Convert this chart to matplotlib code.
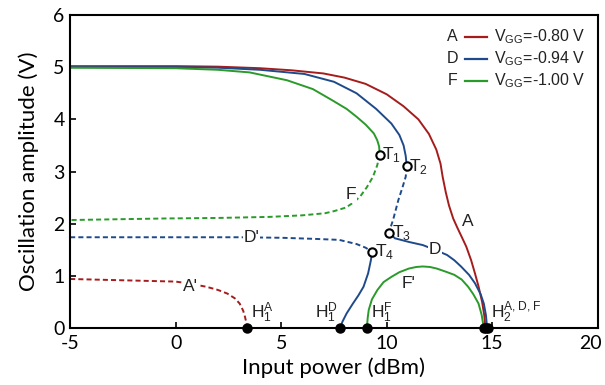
import matplotlib
matplotlib.use("Agg")
import matplotlib.pyplot as plt
from matplotlib.transforms import ScaledTranslation

plt.rcParams["axes.unicode_minus"] = False
plt.rcParams["mathtext.fontset"] = "custom"
plt.rcParams["mathtext.rm"] = "Liberation Sans"

RED, BLUE, GREEN = "#a51c1c", "#1f4a8a", "#2a9a2a"

# A (V_GG=-0.80 V)
A_x = [-5, 0, 2, 4, 5.5, 7, 8, 9, 10, 10.8, 11.5, 12.0, 12.35, 12.55, 12.65, 12.7, 12.8,
       12.95, 13.15, 13.35, 13.55, 13.77, 14.0, 14.18, 14.35, 14.52, 14.62, 14.68]
A_y = [5.02, 5.02, 5.01, 4.98, 4.94, 4.88, 4.8, 4.68, 4.48, 4.25, 4.0, 3.72, 3.42, 3.15,
       2.9, 2.8, 2.6, 2.35, 2.1, 1.92, 1.75, 1.56, 1.3, 1.05, 0.8, 0.5, 0.25, 0.0]
Ap_x = [-5, -3, -1, 0, 0.7, 1.46, 2.0, 2.45, 2.8, 3.03, 3.2, 3.28, 3.35, 3.4]
Ap_y = [0.94, 0.92, 0.9, 0.89, 0.85, 0.79, 0.73, 0.66, 0.57, 0.47, 0.33, 0.22, 0.1, 0.0]

# D (V_GG=-0.94 V)
D_up_x = [-5, 0, 2, 4, 6.1, 7.5, 8.57, 9.5, 10.22, 10.6, 10.8, 10.9, 10.95]
D_up_y = [5.0, 5.0, 4.99, 4.95, 4.87, 4.72, 4.5, 4.2, 3.92, 3.7, 3.5, 3.3, 3.1]
D_mid_x = [10.95, 10.9, 10.75, 10.55, 10.3, 10.1]
D_mid_y = [3.1, 2.9, 2.7, 2.45, 2.07, 1.83]
D_low_x = [10.1, 10.39, 11.05, 11.71, 12.28, 12.86, 13.2, 13.52, 13.9, 14.18, 14.45, 14.6, 14.7, 14.76]
D_low_y = [1.83, 1.72, 1.65, 1.59, 1.5, 1.4, 1.3, 1.18, 1.02, 0.86, 0.65, 0.47, 0.25, 0.0]
Dp_x = [-5, 0, 3, 5, 6.5, 7.74, 8.57, 9.0, 9.31]
Dp_y = [1.74, 1.74, 1.74, 1.73, 1.71, 1.69, 1.61, 1.54, 1.46]
D_h1_x = [9.31, 9.25, 9.12, 8.9, 8.65, 8.4, 8.1, 7.9, 7.8]
D_h1_y = [1.46, 1.3, 1.05, 0.79, 0.62, 0.47, 0.28, 0.12, 0.0]

# F (V_GG=-1.00 V)
F_up_x = [-5, 0, 2, 3.5, 5.27, 6.5, 7.4, 8.1, 8.57, 9.0, 9.39, 9.55, 9.64, 9.67]
F_up_y = [4.99, 4.98, 4.95, 4.9, 4.75, 4.58, 4.37, 4.2, 4.05, 3.9, 3.73, 3.6, 3.48, 3.32]
F_dash_x = [9.67, 9.55, 9.35, 9.06, 8.74, 8.4, 8.07, 7.5, 7.07, 6, 4.43, 2, -0.5, -5]
F_dash_y = [3.32, 3.12, 2.9, 2.7, 2.52, 2.4, 2.31, 2.24, 2.2, 2.16, 2.13, 2.11, 2.1, 2.07]
Fp_x = [9.06, 9.1, 9.15, 9.3, 9.56, 9.85, 10.22, 10.6, 11.05, 11.4, 11.71, 12.05, 12.37,
        12.8, 13.2, 13.55, 13.86, 14.1, 14.35, 14.5, 14.6]
Fp_y = [0.0, 0.2, 0.35, 0.55, 0.73, 0.88, 0.98, 1.07, 1.14, 1.17, 1.18, 1.17, 1.14,
        1.08, 1.02, 0.93, 0.79, 0.65, 0.47, 0.25, 0.0]

T_x = [9.67, 10.95, 10.1, 9.31]
T_y = [3.32, 3.1, 1.83, 1.46]
T_lab = ["T$_1$", "T$_2$", "T$_3$", "T$_4$"]
H_x = [3.4, 7.8, 9.06, 14.6, 14.7, 14.78]

legend_keys = ["A", "D", "F"]
legend_vgg = ["-0.80", "-0.94", "-1.00"]

fig = plt.figure(figsize=(6.05, 3.85), dpi=100)
ax = fig.add_axes([0.116, 0.148, 0.872, 0.813])

lw = 1.4
dash = (0, (2.6, 1.6))
ax.plot(A_x, A_y, color=RED, lw=lw)
ax.plot(Ap_x, Ap_y, color=RED, lw=lw, linestyle=dash)
ax.plot(D_up_x, D_up_y, color=BLUE, lw=lw)
ax.plot(D_mid_x, D_mid_y, color=BLUE, lw=lw, linestyle=dash)
ax.plot(D_low_x, D_low_y, color=BLUE, lw=lw)
ax.plot(Dp_x, Dp_y, color=BLUE, lw=lw, linestyle=dash)
ax.plot(D_h1_x, D_h1_y, color=BLUE, lw=lw)
ax.plot(F_up_x, F_up_y, color=GREEN, lw=lw)
ax.plot(F_dash_x, F_dash_y, color=GREEN, lw=lw, linestyle=dash)
ax.plot(Fp_x, Fp_y, color=GREEN, lw=lw)

ax.plot(T_x, T_y, "o", ms=6, mfc="white", mec="black", mew=1.5, zorder=5)
ax.plot(H_x, [0] * len(H_x), "o", ms=6.5, color="black", clip_on=False, zorder=6)

tf = dict(family="Liberation Sans", fontsize=12.5, color="#222222")
white = dict(boxstyle="square,pad=0.05", fc="white", ec="none")
for (tx, ty, lab, dx) in zip(T_x, T_y, T_lab, [0.12, 0.12, 0.15, 0.15]):
    ax.text(tx + dx, ty, lab, ha="left", va="center", **tf)

ax.text(0.72, 0.80, "A'", ha="center", va="center", bbox=white, zorder=4, **tf)
ax.text(3.6, 1.74, "D'", ha="center", va="center", bbox=white, zorder=4, **tf)
ax.text(8.3, 2.56, "F", ha="center", va="center", bbox=white, zorder=4, **tf)
ax.text(12.3, 1.5, "D", ha="center", va="center", bbox=white, zorder=4, **tf)
ax.text(13.85, 2.05, "A", ha="center", va="center", **tf)
ax.text(11.05, 0.86, "F'", ha="center", va="center", **tf)

ax.text(3.55, 0.05, r"$\mathregular{H_1^A}$", ha="left", va="bottom", **tf)
ax.text(7.7, 0.05, r"$\mathregular{H_1^D}$", ha="right", va="bottom", **tf)
ax.text(9.25, 0.05, r"$\mathregular{H_1^F}$", ha="left", va="bottom", **tf)
ax.text(14.95, 0.05, r"$\mathregular{H_2^{A,D,F}}$", ha="left", va="bottom", **tf)

# hand-made legend: letter, short line, label
for i, (k, v, c) in enumerate(zip(legend_keys, legend_vgg, [RED, BLUE, GREEN])):
    yy = 0.93 - i * 0.07
    ax.text(0.735, yy, k, transform=ax.transAxes, ha="right", va="center",
            family="Liberation Sans", fontsize=11.5, color="#222222")
    ax.plot([0.748, 0.79], [yy, yy], transform=ax.transAxes, color=c, lw=1.6)
    ax.text(0.803, yy, r"$\mathregular{V_{GG}}$=" + v + " V", transform=ax.transAxes,
            ha="left", va="center", family="Liberation Sans", fontsize=11.5, color="#222222")

ax.set_xlim(-5, 20)
ax.set_ylim(0, 6)
ax.set_xticks([-5, 0, 5, 10, 15, 20])
ax.set_yticks([0, 1, 2, 3, 4, 5, 6])
ax.tick_params(direction="in", length=4, width=1.2, labelsize=14)
ax.tick_params(axis="x", pad=5)
ax.tick_params(axis="y", pad=4)
for lab in ax.get_xticklabels() + ax.get_yticklabels():
    lab.set_family("Lato")
# last x label sits right at the figure edge, nudge it in a little
last = ax.get_xticklabels()[-1]
last.set_transform(last.get_transform() + ScaledTranslation(-5 / 72, 0, fig.dpi_scale_trans))
for s in ax.spines.values():
    s.set_linewidth(1.5)
ax.set_xlabel("Input power (dBm)", family="Lato", fontsize=16, labelpad=4)
ax.set_ylabel("Oscillation amplitude (V)", family="Lato", fontsize=16, labelpad=10)

fig.savefig("out.png", dpi=100)
